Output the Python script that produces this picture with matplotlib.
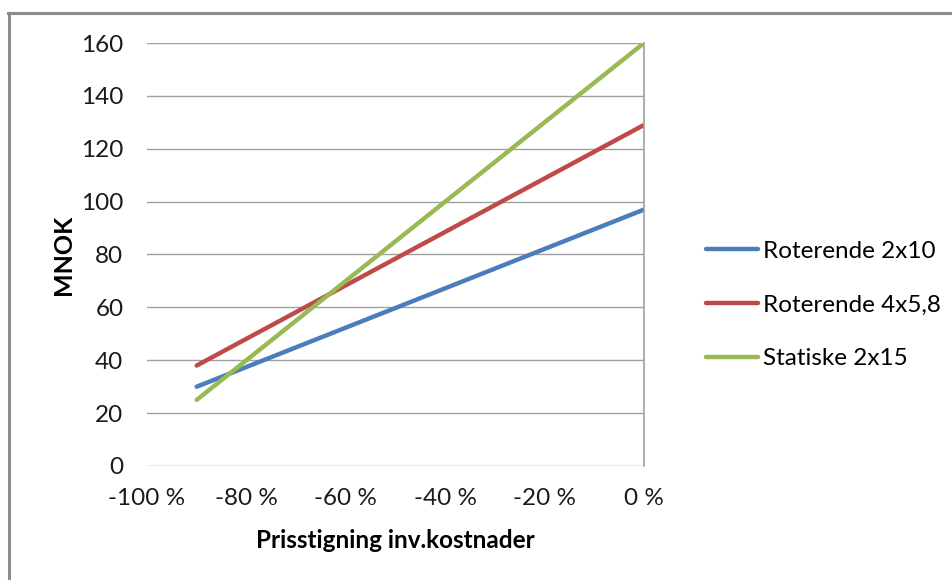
import numpy as np
import matplotlib.pyplot as plt
from matplotlib.lines import Line2D
from matplotlib.ticker import FuncFormatter

plt.rcParams['font.family'] = ['Lato', 'DejaVu Sans']

# price change of investment costs (fraction) and cost in MNOK
pris = [-0.9, 0.0]
roterende_2x10 = [30, 97]
roterende_4x58 = [38, 129]
statiske_2x15 = [25, 160]

serier = ['Roterende 2x10', 'Roterende 4x5,8', 'Statiske 2x15']
farger = ['#4a7ebb', '#be4b48', '#98b954']

W, H = 953, 580
fig = plt.figure(figsize=(W / 100, H / 100), dpi=100)
ax = fig.add_axes([147 / W, 1 - 466 / H, (644 - 147) / W, (466 - 43) / H])

for verdier, navn, farge in zip([roterende_2x10, roterende_4x58, statiske_2x15], serier, farger):
    ax.plot(pris, verdier, color=farge, lw=3.2, label=navn, solid_capstyle='round')

ax.set_xlim(-1.0, 0.0)
ax.set_ylim(0, 160)
ax.set_xticks(np.arange(-1.0, 0.01, 0.2))
ax.set_yticks(range(0, 161, 20))
ax.xaxis.set_major_formatter(FuncFormatter(lambda v, p: f'{round(v * 100)} %'))
ax.grid(axis='y', color='#a0a0a0', lw=1)
ax.set_axisbelow(True)
for s in ['top', 'left', 'bottom']:
    ax.spines[s].set_visible(False)
ax.spines['right'].set_color('#a0a0a0')
ax.spines['right'].set_linewidth(1.2)
ax.tick_params(length=0, labelsize=17.5, colors='#1a1a1a')
ax.tick_params(axis='x', pad=16)
ax.tick_params(axis='y', pad=17)

ax.set_xlabel('Prisstigning inv.kostnader', fontsize=17.5, fontweight='bold', labelpad=14)
ax.set_ylabel('MNOK', fontsize=18, fontweight='bold', labelpad=4)

fig.legend(loc='center left', bbox_to_anchor=(684 / W, 1 - 305 / H), frameon=False,
           fontsize=17.5, handlelength=2.15, handletextpad=0.2, labelspacing=1.35)

# chart area border (left and top)
fig.add_artist(Line2D([9 / W, 9 / W], [0, 1 - 13 / H], color='#8c8c8c', lw=2.2))
fig.add_artist(Line2D([8 / W, 1], [1 - 13 / H, 1 - 13 / H], color='#8c8c8c', lw=2.2))

fig.savefig('out.png', dpi=100)
